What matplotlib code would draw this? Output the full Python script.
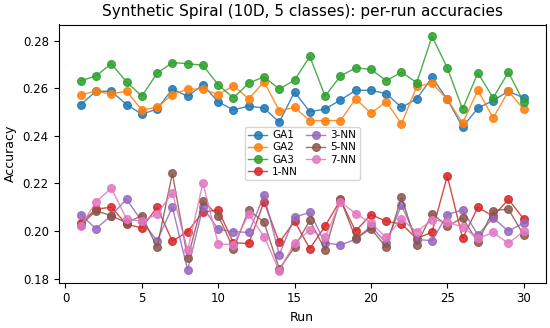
import matplotlib
matplotlib.use("Agg")
import matplotlib.pyplot as plt
import numpy as np

runs = list(range(1, 31))

ga1 = [0.2531, 0.2587, 0.2587, 0.2531, 0.2491, 0.2512, 0.2596, 0.2566, 0.2614, 0.2542,
       0.2509, 0.2525, 0.2516, 0.2457, 0.2584, 0.2501, 0.2512, 0.2550, 0.2591, 0.2591,
       0.2577, 0.2519, 0.2555, 0.2645, 0.2553, 0.2437, 0.2516, 0.2548, 0.2587, 0.2559]
ga2 = [0.2573, 0.2587, 0.2576, 0.2587, 0.2509, 0.2519, 0.2573, 0.2596, 0.2596, 0.2573,
       0.2610, 0.2555, 0.2627, 0.2505, 0.2519, 0.2464, 0.2464, 0.2464, 0.2555, 0.2495,
       0.2543, 0.2450, 0.2607, 0.2621, 0.2553, 0.2453, 0.2591, 0.2475, 0.2587, 0.2512]
ga3 = [0.2631, 0.2651, 0.2703, 0.2626, 0.2566, 0.2663, 0.2707, 0.2703, 0.2696, 0.2614,
       0.2559, 0.2621, 0.2648, 0.2596, 0.2634, 0.2733, 0.2566, 0.2651, 0.2685, 0.2679,
       0.2631, 0.2667, 0.2623, 0.2818, 0.2685, 0.2512, 0.2664, 0.2559, 0.2667, 0.2541]
nn1 = [0.2034, 0.2092, 0.2100, 0.2028, 0.2014, 0.2100, 0.1957, 0.1998, 0.2079, 0.2089,
       0.1950, 0.1948, 0.2123, 0.1952, 0.2041, 0.1926, 0.2021, 0.2130, 0.2000, 0.2069,
       0.2041, 0.2030, 0.1968, 0.1996, 0.2232, 0.1969, 0.2100, 0.2062, 0.2133, 0.2051]
nn3 = [0.2069, 0.2010, 0.2065, 0.2134, 0.2041, 0.1960, 0.2100, 0.1837, 0.2100, 0.2007,
       0.1998, 0.1994, 0.2150, 0.1901, 0.2059, 0.2078, 0.1950, 0.1942, 0.1965, 0.2021,
       0.1950, 0.2110, 0.1964, 0.1960, 0.2069, 0.2089, 0.1984, 0.2055, 0.2000, 0.2034]
nn5 = [0.2025, 0.2085, 0.2065, 0.2034, 0.2065, 0.1932, 0.2242, 0.1885, 0.2127, 0.2065,
       0.1926, 0.2089, 0.2037, 0.1841, 0.1932, 0.2045, 0.1921, 0.2135, 0.1969, 0.2010,
       0.1932, 0.2143, 0.1942, 0.2073, 0.2021, 0.2055, 0.1953, 0.2086, 0.2092, 0.1983]
nn7 = [0.2021, 0.2122, 0.2180, 0.2051, 0.2041, 0.2071, 0.2161, 0.1919, 0.2202, 0.1946,
       0.1943, 0.2071, 0.1977, 0.1833, 0.1950, 0.2004, 0.1973, 0.2123, 0.2073, 0.2034,
       0.1973, 0.2051, 0.1996, 0.2048, 0.2037, 0.2017, 0.1969, 0.1994, 0.1948, 0.2000]

labels = ["GA1", "GA2", "GA3", "1-NN", "3-NN", "5-NN", "7-NN"]
series = [ga1, ga2, ga3, nn1, nn3, nn5, nn7]

fig, ax = plt.subplots(figsize=(5.5, 3.28), dpi=100)
for lab, vals in zip(labels, series):
    ax.plot(runs, vals, marker="o", markersize=5.5, linewidth=1, alpha=0.85, label=lab)

ax.set_title("Synthetic Spiral (10D, 5 classes): per-run accuracies", fontsize=11)
ax.set_xlabel("Run", fontsize=9)
ax.set_ylabel("Accuracy", fontsize=9)
ax.tick_params(labelsize=8.5)
ax.legend(loc="center", ncol=2, fontsize=7.5, handlelength=1.8, columnspacing=0.8,
          labelspacing=0.2, borderpad=0.35, handletextpad=0.5)
fig.tight_layout(pad=0.3)
fig.savefig("out.png", dpi=100)
